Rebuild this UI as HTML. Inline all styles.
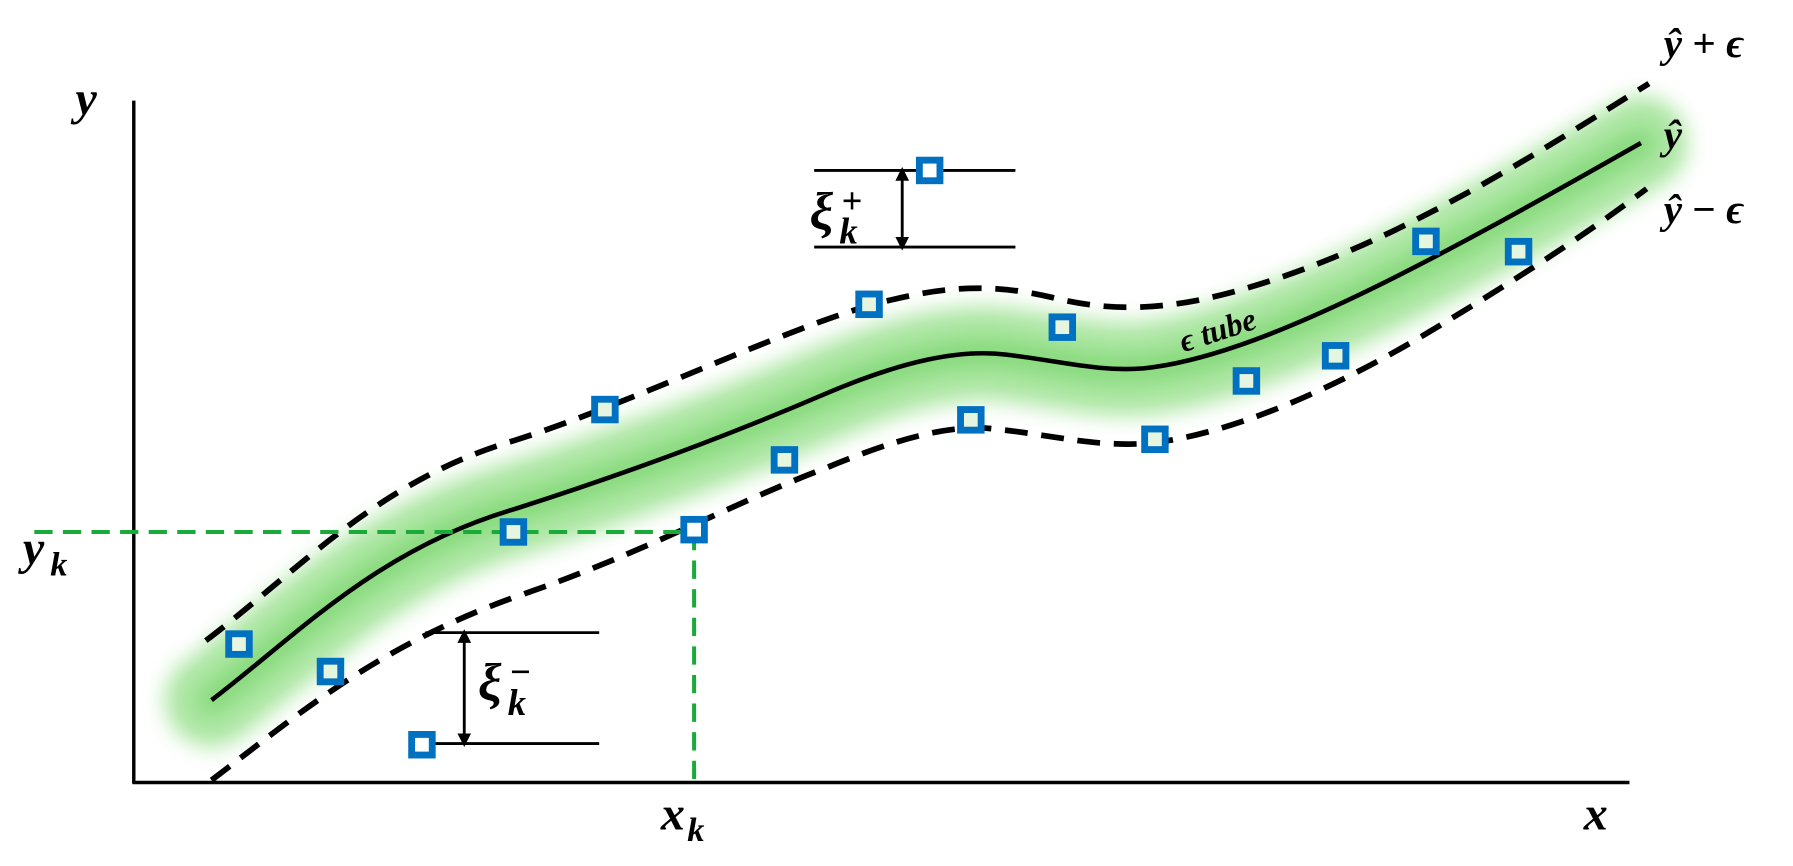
<!DOCTYPE html>
<html><head><style>
body{margin:0;background:#fff;}
svg{display:block;}
svg text{font-family:"Liberation Serif","DejaVu Serif",serif;font-weight:bold;font-style:italic;fill:#000;}
</style></head><body>
<svg width="1793" height="866" viewBox="0 0 1568 757" preserveAspectRatio="none" xmlns="http://www.w3.org/2000/svg">
<defs>
<filter id="b" x="-10%" y="-30%" width="120%" height="160%"><feGaussianBlur stdDeviation="9"/></filter>
<marker id="ah" markerWidth="12" markerHeight="12" refX="6" refY="6" orient="auto-start-reverse" markerUnits="userSpaceOnUse"><path d="M0,0 L12,6 L0,12 z"/></marker>
</defs>
<path d="M185,612 C260,555 330,480 450,445 C560,410 650,375 720,345 C790,315 840,305 880,310 C930,316 960,325 1000,322 C1100,312 1250,230 1435,125" fill="none" stroke="#ade7a4" stroke-width="82" stroke-linecap="round" filter="url(#b)"/>
<path d="M185,612 C260,555 330,480 450,445 C560,410 650,375 720,345 C790,315 840,305 880,310 C930,316 960,325 1000,322 C1100,312 1250,230 1435,125" fill="none" stroke="#62cc55" stroke-width="26" stroke-linecap="round" filter="url(#b)" opacity="0.5"/>
<path d="M185,612 C260,555 330,480 450,445 C560,410 650,375 720,345 C790,315 840,305 880,310 C930,316 960,325 1000,322 C1100,312 1250,230 1435,125" fill="none" stroke="#000" stroke-width="4"/>
<path d="M180,560 C260,500 330,420 450,385 C560,350 700,280 780,262 C830,250 870,248 920,260 C960,270 1000,272 1050,262 C1200,230 1350,130 1442,73" fill="none" stroke="#000" stroke-width="5" stroke-dasharray="20,12"/>
<path d="M185,682 C260,625 330,565 450,522 C560,485 640,440 720,410 C780,385 830,370 870,375 C920,380 960,392 1010,387 C1100,375 1200,320 1250,290 C1350,230 1400,195 1440,165" fill="none" stroke="#000" stroke-width="5" stroke-dasharray="20,12"/>
<line x1="117" y1="88" x2="117" y2="685" stroke="#000" stroke-width="3"/>
<line x1="116" y1="684" x2="1425" y2="684" stroke="#000" stroke-width="3"/>
<line x1="30" y1="465" x2="607" y2="465" stroke="#1aaa3a" stroke-width="3.5" stroke-dasharray="16,9"/>
<line x1="607" y1="465" x2="607" y2="684" stroke="#1aaa3a" stroke-width="3.5" stroke-dasharray="16,9"/>
<g stroke="#000" stroke-width="2.5">
<line x1="712" y1="149" x2="888" y2="149"/><line x1="712" y1="216" x2="888" y2="216"/>
<line x1="789" y1="152" x2="789" y2="213" marker-start="url(#ah)" marker-end="url(#ah)"/>
<line x1="372" y1="553" x2="524" y2="553"/><line x1="380" y1="650" x2="524" y2="650"/>
<line x1="406" y1="556" x2="406" y2="647" marker-start="url(#ah)" marker-end="url(#ah)"/>
</g>
<g fill="#e6f5e0" stroke="#0070c0" stroke-width="6">
<rect x="200" y="554" width="18" height="18"/><rect x="280" y="578" width="18" height="18"/>
<rect x="360" y="642" width="18" height="18" fill="#fff"/><rect x="440" y="456" width="18" height="18"/>
<rect x="520" y="349" width="18" height="18"/><rect x="598" y="454" width="18" height="18" fill="#fff"/>
<rect x="677" y="393" width="18" height="18"/><rect x="751" y="257" width="18" height="18"/>
<rect x="804" y="140" width="18" height="18" fill="#fff"/><rect x="840" y="358" width="18" height="18"/>
<rect x="920" y="277" width="18" height="18"/><rect x="1001" y="375" width="18" height="18"/>
<rect x="1081" y="324" width="18" height="18"/><rect x="1159" y="302" width="18" height="18"/>
<rect x="1238" y="202" width="18" height="18"/><rect x="1319" y="211" width="18" height="18"/>
</g>
<text x="66" y="100" font-size="42">y</text>
<text x="1385" y="725" font-size="42">x</text>
<text x="20" y="493" font-size="42">y</text><text x="44" y="503" font-size="30">k</text>
<text x="578" y="725" font-size="42">x</text><text x="601" y="735" font-size="30">k</text>
<text x="708" y="200" font-size="46">ξ</text><text x="736" y="186" font-size="32" style="font-style:normal">+</text><text x="734" y="213" font-size="32">k</text>
<text x="418" y="612" font-size="46">ξ</text><text x="446" y="598" font-size="32" style="font-style:normal">−</text><text x="444" y="625" font-size="32">k</text>
<text x="1035" y="308" font-size="28" transform="rotate(-18 1035 308)">ϵ tube</text>
<text x="1455" y="50" font-size="36">ŷ <tspan style="font-style:normal">+</tspan> ϵ</text>
<text x="1455" y="130" font-size="36">ŷ</text>
<text x="1455" y="195" font-size="36">ŷ <tspan style="font-style:normal">−</tspan> ϵ</text>
</svg>
</body></html>
